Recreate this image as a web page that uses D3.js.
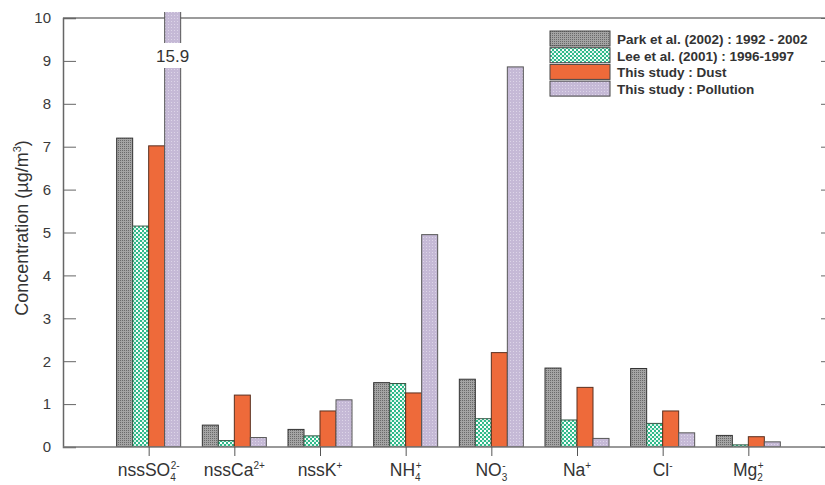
<!DOCTYPE html>
<html>
<head>
<meta charset="utf-8">
<script src="https://cdn.jsdelivr.net/npm/d3@7"></script>
<style>
  html, body { margin: 0; padding: 0; background: #fff; }
  svg { display: block; font-family: "Liberation Sans", Arial, sans-serif; }
</style>
</head>
<body>
<svg id="chart" width="825" height="485"></svg>
<script>
// Ion categories (rendered with sub/superscripts below)
const categories = ["nssSO4", "nssCa", "nssK", "NH4", "NO3", "Na", "Cl", "Mg"];
const categoryLabels = [
  [["nssSO", ""], ["4", "sub"], ["2-", "sup"]],
  [["nssCa", ""], ["2+", "sup"]],
  [["nssK", ""], ["+", "sup"]],
  [["NH", ""], ["4", "sub"], ["+", "sup"]],
  [["NO", ""], ["3", "sub"], ["-", "sup"]],
  [["Na", ""], ["+", "sup"]],
  [["Cl", ""], ["-", "sup"]],
  [["Mg", ""], ["2", "sub"], ["+", "sup"]]
];

const seriesNames = [
  "Park et al. (2002) : 1992 - 2002",
  "Lee et al. (2001) : 1996-1997",
  "This study : Dust",
  "This study : Pollution"
];

// Concentrations (µg/m³) per series, in category order
const park2002   = [7.2, 0.51, 0.41, 1.50, 1.58, 1.84, 1.83, 0.27];
const lee2001    = [5.15, 0.15, 0.26, 1.48, 0.66, 0.63, 0.55, 0.05];
const dust       = [7.02, 1.21, 0.84, 1.26, 2.20, 1.39, 0.84, 0.24];
const pollution  = [15.9, 0.22, 1.10, 4.95, 8.86, 0.20, 0.33, 0.12];

const yTicks = [0, 1, 2, 3, 4, 5, 6, 7, 8, 9, 10];

const seriesValues = [park2002, lee2001, dust, pollution];

const svg = d3.select("#chart");
const mLeft = 63, mRight = 834, mTop = 18, mBottom = 447;

const x = d3.scalePoint().domain(categories).range([mLeft, mRight]).padding(1);
const y = d3.scaleLinear().domain([0, 10]).range([mBottom, mTop]);
const barW = 16;

// Fill patterns
const defs = svg.append("defs");
function pat(id, size, bg, draw) {
  const p = defs.append("pattern").attr("id", id).attr("patternUnits", "userSpaceOnUse")
    .attr("width", size).attr("height", size);
  p.append("rect").attr("width", size).attr("height", size).attr("fill", bg);
  draw(p);
}
pat("pGray", 2, "#a4a4a4", p => {
  p.append("rect").attr("width", 1).attr("height", 1).attr("fill", "#6a6a6a");
});
pat("pGreen", 4, "#ffffff", p => {
  p.append("rect").attr("width", 2).attr("height", 2).attr("fill", "#2fb98a");
  p.append("rect").attr("x", 2).attr("y", 2).attr("width", 2).attr("height", 2).attr("fill", "#2fb98a");
  p.append("rect").attr("x", 2).attr("y", 0).attr("width", 2).attr("height", 2).attr("fill", "#d4f2e6");
});
pat("pPurple", 3, "#c5b9d6", p => {
  p.append("rect").attr("width", 1).attr("height", 1).attr("fill", "#ddd5e8");
});
const fills = ["url(#pGray)", "url(#pGreen)", "#ee6a3a", "url(#pPurple)"];
const strokes = ["#333", "#3a5a48", "#5a3020", "#555"];

// Clip for bars exceeding the axis maximum
defs.append("clipPath").attr("id", "plotClip")
  .append("rect").attr("x", mLeft).attr("y", mTop - 6).attr("width", mRight - mLeft).attr("height", mBottom - mTop + 6);

// Frame line along the top
svg.append("line").attr("x1", mLeft).attr("x2", 825).attr("y1", mTop).attr("y2", mTop)
  .attr("stroke", "#7a7a7a").attr("stroke-width", 1.5);

// Bars
const barsG = svg.append("g").attr("clip-path", "url(#plotClip)");
seriesValues.forEach((vals, s) => {
  barsG.selectAll(null).data(vals).enter().append("rect")
    .attr("x", (d, i) => x(categories[i]) - 2 * barW + s * barW)
    .attr("y", d => y(d))
    .attr("width", barW)
    .attr("height", d => mBottom - y(d))
    .attr("fill", fills[s])
    .attr("stroke", strokes[s])
    .attr("stroke-width", 1);
});

// Value label on the off-scale bar
const offIdx = pollution.findIndex(v => v > 10);
const lx = x(categories[offIdx]) + 1.5 * barW;
svg.append("rect").attr("x", lx - 22).attr("y", 43).attr("width", 44).attr("height", 25).attr("fill", "#fff");
svg.append("text").attr("x", lx).attr("y", 62).attr("text-anchor", "middle")
  .attr("font-size", 17).attr("fill", "#333").text(d3.format(".1f")(pollution[offIdx]));

// Left axis
const yAxis = d3.axisLeft(y).tickValues(yTicks).tickSize(-13).tickPadding(12);
const gy = svg.append("g").attr("transform", `translate(${mLeft},0)`).call(yAxis);
gy.select(".domain").attr("stroke", "#666").attr("stroke-width", 1.5);
gy.selectAll(".tick line").attr("stroke", "#666");
gy.selectAll(".tick text").attr("font-size", 15).attr("fill", "#3a3a3a")
  .attr("font-family", "Liberation Sans, Arial, sans-serif");

// Right-side ticks
const gr = svg.append("g").attr("transform", "translate(826,0)")
  .call(d3.axisLeft(y).tickValues(yTicks).tickSize(5).tickFormat(""));
gr.select(".domain").remove();
gr.selectAll(".tick line").attr("stroke", "#666");

// Bottom axis
const gx = svg.append("g").attr("transform", `translate(0,${mBottom})`)
  .call(d3.axisBottom(x).tickSize(9).tickFormat(""));
gx.select(".domain").attr("d", `M${mLeft},0H825`).attr("stroke", "#777").attr("stroke-width", 1.5);
gx.selectAll(".tick line").attr("stroke", "#555");

// Category labels with sub/superscripts
categories.forEach((c, i) => {
  const t = svg.append("text").attr("x", x(c)).attr("y", 476)
    .attr("text-anchor", "middle").attr("font-size", 17.5).attr("fill", "#333");
  let shift = 0;
  const hasSub = categoryLabels[i].some(p => p[1] === "sub");
  categoryLabels[i].forEach(([txt, kind]) => {
    const ts = t.append("tspan").text(txt);
    if (kind === "sub") {
      ts.attr("font-size", 10).attr("dy", 5 - shift); shift = 5;
    } else if (kind === "sup") {
      ts.attr("font-size", 10).attr("dy", -7 - shift); shift = -7;
      if (hasSub) ts.attr("dx", -5);
    } else {
      ts.attr("dy", -shift); shift = 0;
    }
  });
});

// Y axis title
const yt = svg.append("text").attr("transform", "translate(28,228) rotate(-90)")
  .attr("text-anchor", "middle").attr("font-size", 18).attr("fill", "#333");
yt.append("tspan").text("Concentration (µg/m");
yt.append("tspan").attr("font-size", 11).attr("dy", -7).text("3");
yt.append("tspan").attr("dy", 7).text(")");

// Legend
const lg = svg.append("g").attr("transform", "translate(550,31)");
seriesNames.forEach((name, s) => {
  lg.append("rect").attr("x", 0).attr("y", s * 16.7).attr("width", 60).attr("height", 15)
    .attr("fill", fills[s]).attr("stroke", "#444").attr("stroke-width", 1);
  lg.append("text").attr("x", 67).attr("y", s * 16.7 + 13)
    .attr("font-size", 13.5).attr("font-weight", "bold").attr("fill", "#333").text(name);
});
</script>
</body>
</html>
